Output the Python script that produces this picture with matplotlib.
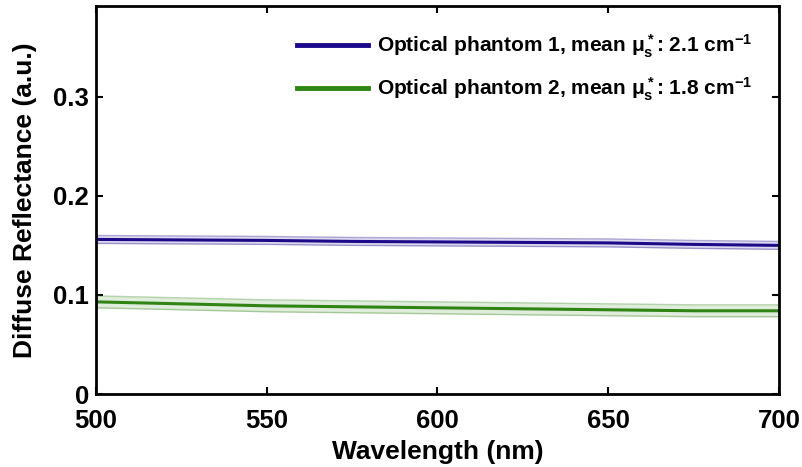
import matplotlib
matplotlib.use("Agg")
import matplotlib.pyplot as plt
import numpy as np

plt.rcParams["font.family"] = ["Liberation Sans", "DejaVu Sans"]
plt.rcParams["font.weight"] = "bold"
plt.rcParams["mathtext.fontset"] = "custom"
plt.rcParams["mathtext.rm"] = "Liberation Sans:bold"
plt.rcParams["mathtext.it"] = "Liberation Sans:bold"
plt.rcParams["mathtext.bf"] = "Liberation Sans:bold"

# wavelength samples (nm)
wavelength = [500, 525, 550, 575, 600, 625, 650, 675, 700]

# mean diffuse reflectance and half-width of the shaded band
phantom1_mean = [0.156, 0.1555, 0.155, 0.154, 0.1535, 0.153, 0.1525, 0.151, 0.150]
phantom1_spread = [0.004, 0.004, 0.004, 0.004, 0.004, 0.004, 0.004, 0.004, 0.004]
phantom2_mean = [0.093, 0.091, 0.089, 0.088, 0.087, 0.086, 0.085, 0.084, 0.084]
phantom2_spread = [0.006, 0.006, 0.006, 0.006, 0.006, 0.006, 0.006, 0.006, 0.006]

labels = [
    r"Optical phantom 1, mean $\mu_s^*$: 2.1 cm$^{-1}$",
    r"Optical phantom 2, mean $\mu_s^*$: 1.8 cm$^{-1}$",
]
colors = ["#1c0a8a", "#2f8414"]

fig = plt.figure(figsize=(8.03, 4.67), dpi=100)
ax = fig.add_axes([0.1196, 0.1563, 0.8504, 0.8317])

series = [(phantom1_mean, phantom1_spread), (phantom2_mean, phantom2_spread)]
for (mean, spread), color, label in zip(series, colors, labels):
    x = np.array(wavelength)
    m = np.array(mean)
    s = np.array(spread)
    ax.fill_between(x, m - s, m + s, color=color, alpha=0.15, linewidth=0)
    ax.plot(x, m - s, color=color, alpha=0.35, linewidth=1)
    ax.plot(x, m + s, color=color, alpha=0.35, linewidth=1)
    ax.plot(x, m, color=color, linewidth=2.2, label=label)

ax.set_xlim(500, 700)
ax.set_ylim(0, 0.392)
ax.set_xticks([500, 550, 600, 650, 700])
ax.set_yticks([0, 0.1, 0.2, 0.3])
ax.set_yticklabels(["0", "0.1", "0.2", "0.3"])
ax.tick_params(direction="in", length=5, width=1.5, labelsize=18.5,
               top=True, right=True)
ax.tick_params(axis="x", pad=11)
ax.tick_params(axis="y", pad=5)
for spine in ax.spines.values():
    spine.set_linewidth(2)

ax.set_xlabel("Wavelength (nm)", fontsize=19, fontweight="bold", labelpad=5)
ax.set_ylabel("Diffuse Reflectance (a.u.)", fontsize=19, fontweight="bold", labelpad=12)

leg = ax.legend(loc="upper right", frameon=False, fontsize=15, handlelength=3.4,
                handletextpad=0.4, labelspacing=0.75, borderaxespad=0.5,
                borderpad=0.8)
for line in leg.get_lines():
    line.set_linewidth(3.5)

fig.savefig("out.png", dpi=100)
